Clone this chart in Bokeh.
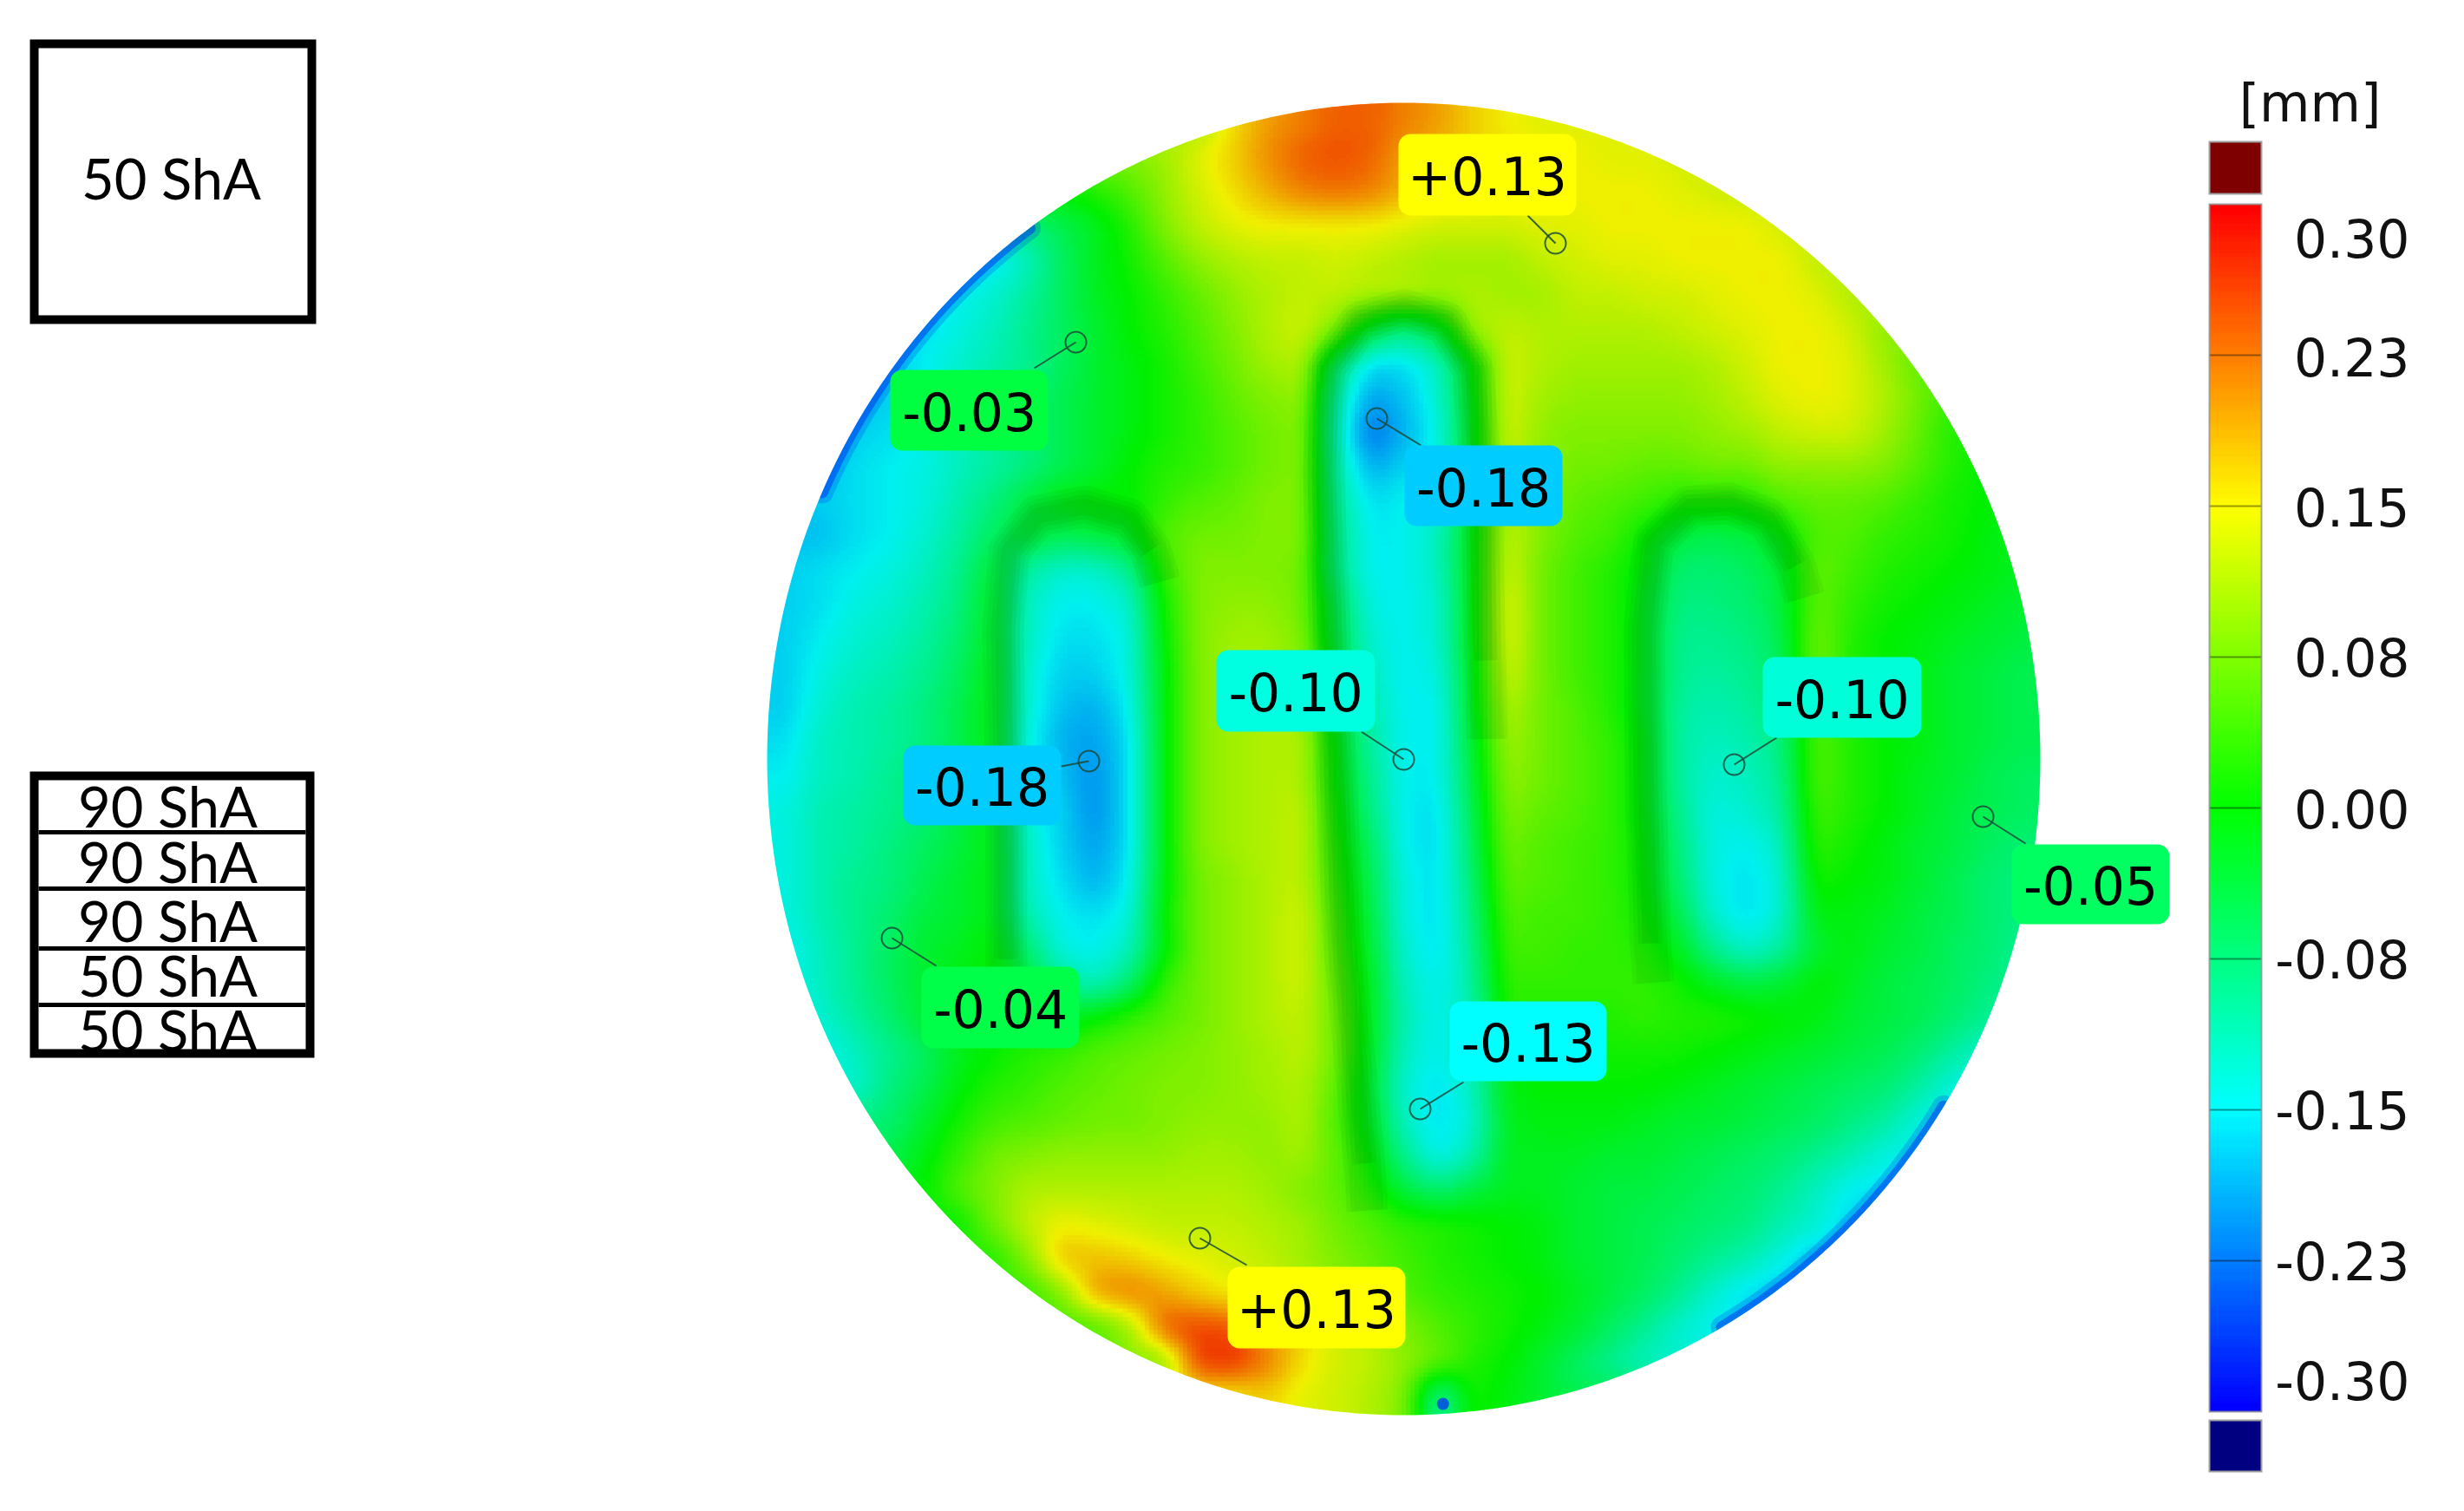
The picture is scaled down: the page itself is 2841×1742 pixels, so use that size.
import numpy as np
from bokeh.plotting import figure
from bokeh.models import LinearColorMapper, Range1d
from bokeh.core.properties import value
from bokeh.embed import file_html
from bokeh.resources import INLINE

# deviation, hundredths of a mm, one row per 40 px band, top to bottom
dev_rows = [
 [10]*13 + [16,20,22,24,24,22,20,17,15,14] + [14]*14,
 [8]*11 + [10,14,17,21,24,25,24,20,18,17,16,15,15,14,14] + [13]*11,
 [0]*9 + [2,5,9,13,16,19,22,23,22,19,17,16,15,15,15,15,15,14,13] + [12]*9,
 [-8]*7 + [-8,-5,-2,2,8,12,14,15,15,15,15,14,13,13,13,14,14,15,15,15,15,15,13] + [12]*7,
 [-16]*6 + [-16,-12,-6,-2,1,5,9,11,12,12,13,12,11,10,10,10,12,13,14,14,15,15,15,15,12] + [11]*6,
 [-15]*5 + [-15,-13,-10,-6,-2,0,3,6,9,11,12,12,11,11,10,11,10,10,12,12,13,13,14,15,15,14,11] + [10]*5,
 [-16]*4 + [-16,-14,-12,-9,-6,-3,0,2,5,8,11,13,8,-3,-8,-3,10,12,11,11,11,11,12,13,14,15,15,13,9] + [8]*4,
 [-17]*3 + [-17,-15,-13,-11,-9,-6,-3,-1,1,4,7,10,11,-6,-16,-16,-12,0,13,11,10,10,10,10,11,13,15,15,14,10,6] + [5]*3,
 [-18]*3 + [-17,-15,-13,-10,-8,-5,-3,-1,1,3,6,8,9,-10,-20,-18,-13,-1,13,10,9,9,9,9,10,12,14,15,14,11,7,3] + [2]*2,
 [-18]*2 + [-17,-16,-15,-12,-10,-8,-5,-3,-1,1,3,5,7,8,-11,-23,-19,-14,-2,13,9,8,8,8,8,9,10,12,13,13,10,6,2] + [1]*2,
 [-18]*2 + [-16,-15,-14,-12,-10,-8,-5,-3,0,2,3,5,7,8,-10,-19,-17,-14,-1,12,9,7,7,6,6,7,7,9,9,9,8,5,2,0] + [0],
 [-18] + [-17,-16,-15,-14,-11,-8,-4,-1,0,0,3,5,6,8,8,-9,-16,-15,-13,-1,11,8,6,5,4,2,2,2,5,6,6,5,3,1,0] + [-1],
 [-18,-18,-16,-15,-13,-10,-6,-3,-5,-4,-2,5,7,7,8,8,-8,-15,-15,-12,-1,12,8,5,4,0,-4,-5,-4,-1,5,5,3,2,1,-1,-2],
 [-17,-16,-15,-14,-12,-9,-3,-10,-13,-13,-9,3,8,8,8,7,-8,-15,-15,-12,-1,13,7,4,2,-1,-7,-7,-6,-3,6,4,2,1,0,-1,-2],
 [-17,-16,-14,-13,-11,-8,-2,-12,-15,-15,-13,1,8,9,9,7,-5,-14,-15,-13,-1,14,7,4,2,-2,-8,-8,-7,-4,6,3,1,0,-1,-2,-3],
 [-17,-15,-13,-12,-10,-7,-2,-12,-16,-16,-14,0,8,10,10,8,-4,-13,-15,-13,-1,14,7,4,2,-2,-9,-9,-8,-5,7,2,0,-1,-2,-3,-4],
 [-17,-14,-12,-11,-9,-6,-1,-13,-17,-17,-14,-1,8,10,10,9,-3,-12,-15,-14,-2,13,7,4,2,-2,-9,-10,-9,-6,7,2,0,-1,-3,-4,-5],
 [-17,-13,-11,-10,-8,-5,-1,-13,-18,-19,-15,-1,8,10,11,10,-2,-11,-15,-15,-2,11,7,5,2,-2,-10,-11,-10,-7,6,2,0,-1,-3,-4,-5],
 [-16,-12,-11,-10,-8,-5,-1,-14,-19,-20,-16,-1,8,10,11,11,-1,-10,-15,-15,-3,10,7,5,3,-1,-10,-12,-11,-8,5,2,0,-1,-3,-4,-5],
 [-15,-12,-11,-9,-7,-5,-1,-13,-18,-21,-16,-1,8,10,11,11,0,-9,-15,-15,-4,9,7,5,3,-1,-10,-13,-12,-9,5,2,0,-2,-3,-5,-6],
 [-14,-11,-10,-9,-7,-4,-1,-13,-17,-21,-16,-1,8,10,11,12,1,-8,-15,-16,-5,8,6,5,3,-1,-9,-14,-13,-10,4,2,0,-2,-4,-5,-6],
 [-14,-11,-10,-8,-6,-4,-1,-12,-17,-20,-16,-1,8,10,11,12,2,-6,-15,-16,-6,7,5,4,3,0,-8,-14,-15,-12,3,1,-1,-3,-4,-6,-7],
 [-14,-11,-9,-8,-5,-3,-1,-12,-16,-19,-15,-1,7,9,11,12,3,-5,-14,-16,-7,6,5,4,3,0,-7,-14,-16,-13,1,0,-1,-3,-5,-7,-8],
 [-14,-11,-9,-7,-4,-3,-1,-11,-15,-16,-14,0,7,9,11,13,4,-4,-14,-16,-8,5,4,4,3,1,-5,-13,-16,-13,-1,-1,-2,-4,-5,-7,-8],
 [-15,-12,-9,-6,-3,-2,0,-7,-14,-15,-12,-1,7,9,11,13,5,-3,-13,-16,-9,4,4,3,3,2,-2,-9,-13,-10,-3,-1,-3,-4,-6,-7,-9],
 [-15,-12,-9,-6,-3,-1,0,-3,-9,-12,-7,3,7,9,11,13,6,-2,-12,-15,-10,3,3,3,3,3,1,-2,-4,-3,0,-2,-4,-5,-6,-8,-9],
 [-15,-13,-10,-7,-3,-1,0,0,-2,0,3,5,7,9,11,12,7,-2,-11,-15,-11,2,2,2,2,3,2,2,1,0,-1,-3,-4,-5,-7,-9,-10],
 [-15,-15,-12,-9,-6,-2,0,2,3,5,6,7,8,9,10,12,7,-2,-12,-15,-11,0,1,1,1,1,1,0,-1,-2,-3,-4,-5,-7,-10,-13,-13],
 [-13,-13,-13,-8,-5,-1,2,3,5,6,7,8,8,9,10,11,6,-3,-13,-16,-12,-1,0,0,0,0,-1,-2,-3,-4,-5,-6,-7,-10,-14,-14,-14],
 [-8,-8,-8,-7,-3,1,4,5,6,7,7,8,9,9,9,11,5,-2,-12,-16,-13,-2,-1,-1,-1,-2,-3,-3,-4,-5,-6,-8,-10,-14,-15,-15,-15],
 [-5,-5,-5,-5,-1,3,7,8,9,9,9,9,10,10,9,10,6,0,-9,-15,-11,-2,-2,-2,-3,-3,-4,-5,-6,-7,-9,-11,-14,-15,-15,-15,-15],
 [-3,-3,-3,-3,0,5,8,11,11,11,11,11,11,11,10,8,6,2,-4,-7,-4,-2,-2,-3,-4,-4,-5,-6,-7,-9,-12,-15,-16,-16,-16,-16,-16],
 [0,0,0,0,0,0,7,12,15,14,13,12,12,12,11,10,7,5,3,2,1,0,-1,-3,-4,-5,-6,-7,-8,-11,-13,-17,-17,-17,-17,-17,-17],
 [2]*7 + [8,18,18,17,15,14,13,12,10,8,6,4,2,1,0,-1,-3,-4,-5,-7,-9,-11,-14] + [-18]*7,
 [3]*8 + [8,20,22,20,17,15,13,11,9,7,5,3,2,1,0,-2,-4,-6,-9,-13,-16,-18] + [-18]*7,
 [4]*10 + [10,24,26,25,20,17,13,11,8,5,3,1,-1,-3,-6,-9,-13,-15,-16,-16] + [-16]*7,
 [8]*12 + [26,27,22,16,13,12,9,6,2,0,-3,-6,-9,-12] + [-13]*11,
 [15]*14 + [17,14,13,11,8,-10,1,-1,-3] + [-5]*14,
]

# colour scale
scale_values = [-0.30, -0.225, -0.15, -0.075, 0.0, 0.075, 0.15, 0.225, 0.30]
scale_colors = ["#0000ff", "#0080ff", "#00ffff", "#00ff80", "#00ff00", "#80ff00", "#ffff00", "#ff8000", "#ff0000"]
tick_values = [0.30, 0.225, 0.15, 0.075, 0.0, -0.075, -0.15, -0.225, -0.30]
tick_labels = ["0.30", "0.23", "0.15", "0.08", "0.00", "-0.08", "-0.15", "-0.23", "-0.30"]
tick_label_y = [274, 411, 584, 757, 932, 1105, 1279, 1453, 1591]

# probes on the plate
probe_text = ["+0.13", "-0.03", "-0.18", "-0.10", "-0.10", "-0.18", "-0.04", "-0.05", "-0.13", "+0.13"]
probe_fill = ["#ffff00", "#00ff40", "#00ccff", "#00ffe0", "#00ffd8", "#00ccff", "#00ff48", "#00ff60", "#00ffff", "#ffff00"]
box_l = [1612, 1026, 1619, 1402, 2032, 1041, 1062, 2319, 1671, 1415]
box_r = [1817, 1208, 1801, 1585, 2215, 1223, 1244, 2501, 1852, 1620]
box_t = [154, 426, 513, 749, 757, 859, 1114, 973, 1154, 1460]
box_b = [248, 519, 606, 843, 850, 951, 1208, 1065, 1246, 1554]
probe_x = [1793, 1240, 1587, 1618, 1999, 1255, 1028, 2286, 1637, 1383]
probe_y = [280, 394, 482, 875, 881, 877, 1081, 941, 1278, 1427]
lead_x = [1761, 1192, 1638, 1569, 2048, 1223, 1079, 2335, 1687, 1437]
lead_y = [248, 424, 513, 843, 850, 883, 1113, 972, 1247, 1458]

# dark shaded walls of the three slots (traced, in the small view's pixels)
wall_x = [
    [641, 640, 640, 638, 642, 660, 690, 718, 732, 738],
    [870, 868, 855, 848, 842, 845, 865, 893, 920, 937, 942, 945, 946],
    [1052, 1050, 1047, 1046, 1052, 1075, 1100, 1125, 1142, 1148],
]
wall_y = [
    [630, 610, 500, 400, 350, 328, 322, 330, 350, 370],
    [770, 740, 600, 450, 300, 235, 205, 197, 205, 235, 300, 420, 470],
    [625, 600, 500, 400, 345, 322, 320, 330, 360, 380],
]
# blue stretches of the rim, as angles round the plate (degrees, clockwise from the right)
rim_from = [204, 32]
rim_to = [234, 60]
spot_x = [918]
spot_y = [893]

# legend boxes
stack_text = ["90 ShA", "90 ShA", "90 ShA", "50 ShA", "50 ShA"]
stack_text_y = [928, 992, 1060, 1123, 1186]
stack_rule_y = [959, 1024, 1093, 1158]
single_text = "50 ShA"

W, H = 2825, 1726
OX, OY = 0, 0
p = figure(width=W, height=H, x_range=Range1d(OX, OX + W), y_range=Range1d(OY + H, OY),
           output_backend="svg", toolbar_location=None, min_border=0,
           x_axis_location=None, y_axis_location=None)
p.grid.visible = False
p.outline_line_color = None
p.background_fill_color = "white"
p.border_fill_color = "white"
# value axis of the colour bar, shares the page's vertical space
p.extra_y_ranges = {"bar": Range1d((931 - (OY + H)) / 174 * 0.075, (931 - OY) / 174 * 0.075)}

# display copy only: dev_rows stays as read; Bokeh's image glyph has no smoothing option,
# so the read-off grid is resampled here, like a bilinear display mode, with no new readings
def display_copy(a, k=8, r=3):
    a = np.pad(a, 1, mode="edge")
    ny, nx = a.shape
    fy = np.linspace(0, ny - 1, (ny - 1) * k + 1)
    fx = np.linspace(0, nx - 1, (nx - 1) * k + 1)
    b = np.array([np.interp(fx, np.arange(nx), row) for row in a])
    b = np.array([np.interp(fy, np.arange(ny), col) for col in b.T]).T
    win = np.ones(2 * r + 1) / (2 * r + 1)
    b = np.pad(b, r, mode="edge")
    b = np.apply_along_axis(lambda s: np.convolve(s, win, "valid"), 0, b)
    b = np.apply_along_axis(lambda s: np.convolve(s, win, "valid"), 1, b)
    return b

grid = np.array(dev_rows, dtype=float) / 100.0

v = np.linspace(-0.30, 0.30, 256)
c = [[int(s[i:i + 2], 16) for i in (1, 3, 5)] for s in scale_colors]
pal = ["#%02x%02x%02x" % tuple(int(round(np.interp(t, scale_values, [k[j] for k in c]))) for j in range(3)) for t in v]
mapper = LinearColorMapper(palette=pal, low=-0.30, high=0.30, low_color="#000080", high_color="#800000")

# plate; readings sit at cell centres, so the display copy spans centre to centre
X0, X1, Y0, Y1 = 884, 2352, 118, 1631
CW, CH = (X1 - X0) / 37, (Y1 - Y0) / 38
p.image(image=[display_copy(grid)], x=X0 - CW / 2, y=Y0 - CH / 2, dw=X1 - X0 + CW, dh=Y1 - Y0 + CH, color_mapper=mapper)
cx, cy, rx, ry = (X0 + X1) / 2, (Y0 + Y1) / 2, (X1 - X0) / 2, (Y1 - Y0) / 2
SC = 2841 / 1568
wx = [[a * SC for a in s] for s in wall_x]
wy = [[a * SC for a in s] for s in wall_y]
for trim, width in enumerate((48, 38, 28, 18)):
    t_x = [s[trim // 2: len(s) - trim // 2] for s in wx]
    t_y = [s[trim // 2: len(s) - trim // 2] for s in wy]
    p.multi_line(xs=t_x, ys=t_y, line_color="#003000", line_alpha=0.045, line_width=width, line_join="round", line_cap="butt")
# half of each rim stroke falls under the white mask, leaving a thin edge
rim_t = [np.radians(np.linspace(a, b, 60)) for a, b in zip(rim_from, rim_to)]
for width, alpha in ((26, 0.25), (14, 0.55)):
    p.multi_line(xs=[list(cx + rx * np.cos(s)) for s in rim_t], ys=[list(cy + ry * np.sin(s)) for s in rim_t],
                 line_color="#0040ff", line_alpha=alpha, line_width=width, line_cap="round")
p.circle(x=[a * SC for a in spot_x], y=[a * SC for a in spot_y], radius=7, radius_units="screen",
         fill_color="#0040ff", fill_alpha=0.8, line_color=None)
# the scan's surface reads a touch darker than the pure scale colours
p.ellipse(x=[cx], y=[cy], width=[2 * rx], height=[2 * ry], fill_color="#000000", fill_alpha=0.06, line_color=None)
t = np.linspace(0, 2 * np.pi, 721)
M = 40
p.multi_polygons(xs=[[[[X0 - M, X1 + M, X1 + M, X0 - M], list(cx + rx * np.cos(t))]]],
                 ys=[[[[Y0 - M, Y0 - M, Y1 + M, Y1 + M], list(cy + ry * np.sin(t))]]],
                 fill_color="white", line_color=None)

# probes
p.segment(x0=probe_x, y0=probe_y, x1=lead_x, y1=lead_y, line_color="#1c4a3a", line_alpha=0.85, line_width=2)
p.circle(x=probe_x, y=probe_y, radius=12, radius_units="screen", fill_color=None, line_color="#1c4a3a", line_alpha=0.85, line_width=2)
p.quad(left=box_l, right=box_r, top=box_t, bottom=box_b, fill_color=probe_fill, line_color=None, border_radius=14)
p.text(x=[(a + b) / 2 for a, b in zip(box_l, box_r)], y=[(a + b) / 2 + 1 for a, b in zip(box_t, box_b)],
       text=probe_text, text_align="center", text_baseline="middle",
       text_font=value("DejaVu Sans"), text_font_size="60px", text_color="#000000")

# colour bar
BL, BR = 2547, 2607
ramp = np.linspace(-0.30, 0.30, 320).reshape(-1, 1)
p.image(image=[ramp], x=BL, y=-0.30, dw=BR - BL, dh=0.60, y_range_name="bar", color_mapper=mapper)
p.segment(x0=[BL] * 7, x1=[BR] * 7, y0=tick_values[1:-1], y1=tick_values[1:-1], y_range_name="bar",
          line_color="#000000", line_alpha=0.4, line_width=2)
p.quad(left=[BL], right=[BR], top=[0.30], bottom=[-0.30], y_range_name="bar",
       fill_color=None, line_color="#8f8f8f", line_alpha=0.8, line_width=2, line_join="miter")
p.quad(left=[BL, BL], right=[BR, BR], top=[163, 1637], bottom=[223, 1696],
       fill_color=["#7f0000", "#000080"], line_color="#a0a0a0", line_width=2, line_join="miter")
p.text(x=[2778] * len(tick_labels), y=tick_label_y, text=tick_labels, text_align="right", text_baseline="middle",
       text_font=value("DejaVu Sans"), text_font_size="60px", text_color="#111111")
p.text(x=[2663], y=[118], text=["[mm]"], text_align="center", text_baseline="middle",
       text_font=value("DejaVu Sans"), text_font_size="60px", text_color="#111111")

# legend boxes
p.quad(left=[39, 39], right=[359, 357], top=[50, 894], bottom=[368, 1214],
       fill_color=None, line_color="#000000", line_width=10, line_join="miter")
p.segment(x0=[44] * 4, x1=[352] * 4, y0=stack_rule_y, y1=stack_rule_y, line_color="#000000", line_width=5)
p.text(x=[197], y=[204], text=[single_text], text_align="center", text_baseline="middle",
       text_font=value("Lato"), text_font_size="65px", text_color="#000000")
p.text(x=[193] * 5, y=stack_text_y, text=stack_text, text_align="center", text_baseline="middle",
       text_font=value("Lato"), text_font_size="65px", text_color="#000000")

open("out.html", "w").write(file_html(p, INLINE))
